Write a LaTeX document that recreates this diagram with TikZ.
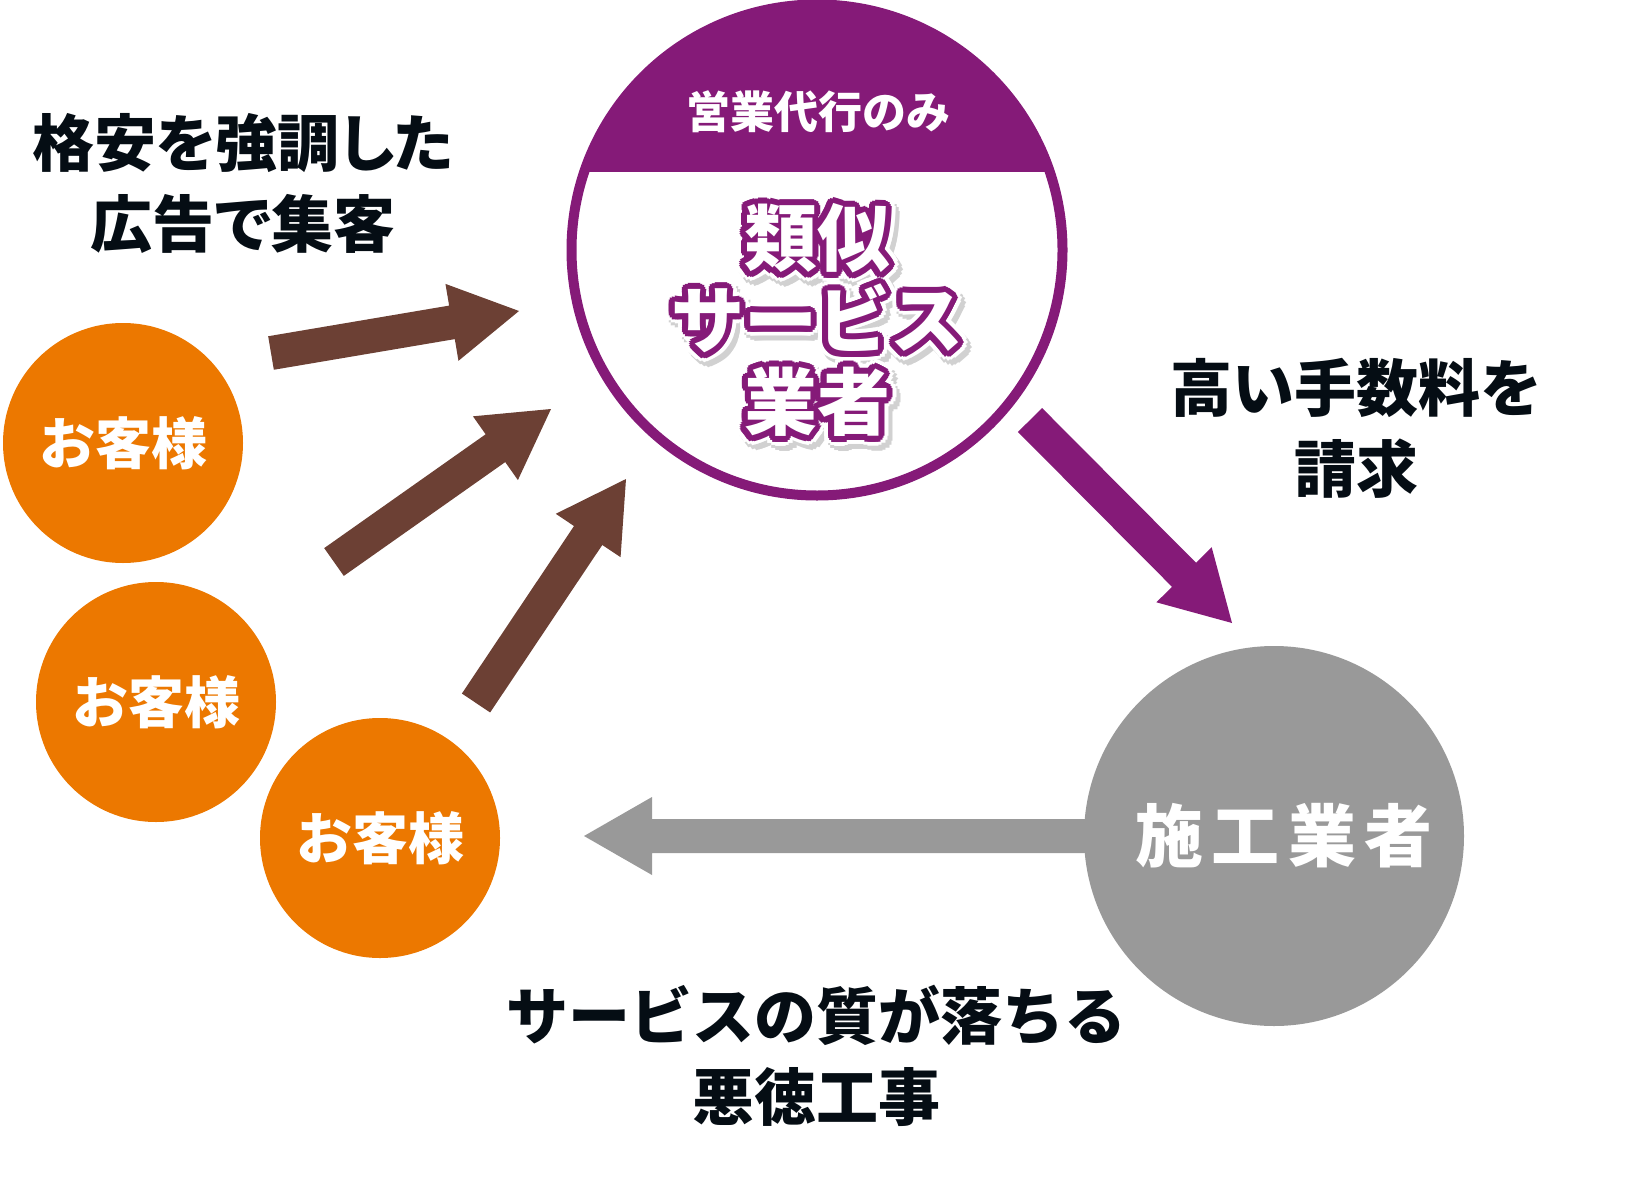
\documentclass[tikz,border=0pt]{standalone}
\usepackage{fontspec}
\newfontfamily\jpfont{Noto Sans CJK JP}
\newfontfamily\jpprop{Noto Sans CJK JP}[RawFeature=+palt]
\usetikzlibrary{calc}
\definecolor{agentpurple}{RGB}{133,26,120}
\definecolor{flowbrown}{RGB}{108,64,52}
\definecolor{clientorange}{RGB}{236,120,0}
\definecolor{workergray}{RGB}{153,153,153}
\definecolor{inkdark}{RGB}{5,13,20}
\begin{document}
\begin{tikzpicture}[x=1pt,y=-1pt,
		client/.style={circle,fill=clientorange,minimum size=240pt,inner sep=0pt,text=white,font=\jpfont\bfseries\fontsize{56}{60}\selectfont},
		caption/.style={align=center,text=inkdark,inner sep=0pt,font=\jpfont\bfseries\fontsize{62}{81}\selectfont},
		bigname/.style={align=center,inner sep=0pt,font=\jpfont\bfseries\fontsize{73}{82}\selectfont}]
		\newcommand{\fatarrow}[3]{\coordinate (hb) at ($(#2)!68pt!(#1)$);
			\fill[#3] ($(#1)!17pt!90:(#2)$) -- ($(hb)!17pt!90:(#2)$) -- ($(hb)!39pt!90:(#2)$) -- (#2)
			-- ($(hb)!39pt!-90:(#2)$) -- ($(hb)!17pt!-90:(#2)$) -- ($(#1)!17pt!-90:(#2)$) -- cycle;}
		\newcommand{\agentname}{類似\\サービス\\業者}
		\useasboundingbox (0,0) rectangle (1627,1188);
		
		\coordinate (t1) at (271,353);  \coordinate (h1) at (519,311);
		\coordinate (t2) at (334,562);  \coordinate (h2) at (551,409);
		\coordinate (t3) at (476,703);  \coordinate (h3) at (626,479);
		\coordinate (t4) at (1030,420); \coordinate (h4) at (1232,623);
		\coordinate (t5) at (1150,836); \coordinate (h5) at (584,836);
		\fatarrow{t1}{h1}{flowbrown}
		\fatarrow{t2}{h2}{flowbrown}
		\fatarrow{t3}{h3}{flowbrown}
		\fatarrow{t4}{h4}{agentpurple}
		\fatarrow{t5}{h5}{workergray}
		
		\node[client] (client1) at (123,443) {お客様};
		\node[client] (client2) at (156,702) {お客様};
		\node[client] (client3) at (380,838) {お客様};
		\node[circle,fill=workergray,minimum size=380pt,inner sep=0pt] (worker) at (1274,836) {};
		\node[text=white,inner sep=0pt,font=\jpfont\bfseries\fontsize{68}{70}\selectfont\addfontfeatures{LetterSpace=12}] (workername) at (1284,836) {施工業者};
		
		\node[circle,draw=agentpurple,fill=white,line width=10pt,minimum size=491pt,inner sep=0pt] (agent) at (817,250) {};
		\begin{scope}
			\clip (agent.center) circle (245.5);
			\fill[agentpurple] (550,0) rectangle (1090,172);
		\end{scope}
		\node[text=white,inner sep=0pt,font=\jpprop\bfseries\fontsize{44}{48}\selectfont] (onlysales) at (818,112) {営業代行のみ};
		
		\coordinate (namepos) at (817,320);
		\foreach \a [count=\i] in {0,22.5,...,337.5} \node[bigname,text=black!18] (shade\i) at ($(namepos)+(4,5)+(\a:10)$) {\agentname};
		\foreach \a [count=\i] in {0,22.5,...,337.5} \node[bigname,text=white] (halo\i) at ($(namepos)+(\a:10)$) {\agentname};
		\foreach \a [count=\i] in {0,22.5,...,337.5} \node[bigname,text=agentpurple] (rim\i) at ($(namepos)+(\a:6)$) {\agentname};
		\node[bigname,text=white] (agentname) at (namepos) {\agentname};
		
		\node[caption,font=\jpprop\bfseries\fontsize{62}{81}\selectfont] (adtext) at (243,183) {格安を強調した\\広告で集客};
		\node[caption] (feetext) at (1356,428) {高い手数料を\\請求};
		\node[caption] (qualitytext) at (816,1056) {サービスの質が落ちる\\悪徳工事};
	\end{tikzpicture}
\end{document}
